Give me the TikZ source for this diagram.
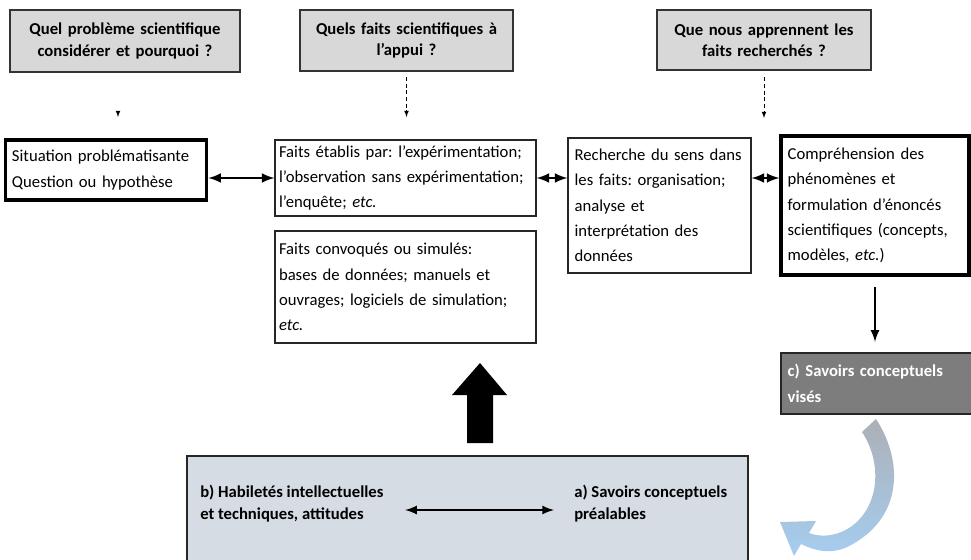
\documentclass[tikz,border=0pt]{standalone}
\usepackage{fontspec}
\setmainfont{Carlito}
\frenchspacing
\usetikzlibrary{
    arrows,
    calc,
    positioning
}
\definecolor{qfill}{RGB}{216,216,216}
\definecolor{cfill}{RGB}{125,125,125}
\definecolor{basefill}{RGB}{214,220,228}
\definecolor{curvetop}{RGB}{172,176,182}
\definecolor{curvebot}{RGB}{165,205,240}

\begin{document}
\begin{tikzpicture}[x=0.75pt, y=-0.75pt,
    question/.style={draw=black!80, line width=0.8pt, fill=qfill, align=center, inner sep=0pt, font=\fontsize{12.5}{16}\selectfont\bfseries},
    box/.style={draw=black!85, line width=0.8pt, align=left, inner xsep=5pt, inner ysep=0pt, font=\fontsize{12.5}{19}\selectfont},
    thickbox/.style={box, draw=black, line width=2.4pt},
    dblarrow/.style={latex-latex, line width=2.2pt},
    hintarrow/.style={-latex, line width=0.6pt, dash pattern=on 3pt off 2pt}]
    \useasboundingbox (0,0) rectangle (971,560);
    % questions
    \node[question, minimum width=172.5pt, minimum height=46.5pt, text width=165pt] (q1) at (125,41) {Quel problème scientifique\\considérer et pourquoi ?};
    \node[question, minimum width=159.75pt, minimum height=45.75pt, text width=150pt] (q2) at (406.5,40.5) {Quels faits scientifiques à\\l’appui ?};
    \node[question, minimum width=160.5pt, minimum height=45pt, text width=150pt] (q3) at (764,40) {Que nous apprennent les\\faits recherchés ?};
    \coordinate (q1end) at (118,117);
    \coordinate (q2end) at (406.5,117);
    \coordinate (q3end) at (764,118);
    % steps
    \node[thickbox, minimum height=45pt, text width=141pt] (sit) at (106,170) {Situation problématisante\\Question ou hypothèse};
    \node[box, inner xsep=3pt, minimum height=57pt, text width=189.75pt] (faits1) at (405.5,178) {Faits établis par: l’expérimentation;\\l’observation sans expérimentation;\\l’enquête; \textit{etc.}};
    \node[box, inner xsep=3pt, minimum height=84pt, text width=189.75pt] (faits2) at (405.5,287) {Faits convoqués ou simulés:\\bases de données; manuels et\\ouvrages; logiciels de simulation;\\\textit{etc.}};
    \node[box, minimum height=101.25pt, text width=127.25pt] (rech) at (659.5,205.5) {Recherche du sens dans\\les faits: organisation;\\analyse et\\interprétation des\\données};
    \node[thickbox, minimum height=104.25pt, text width=131pt] (comp) at (875,205.5) {Compréhension des\\phénomènes et\\formulation d’énoncés\\scientifiques (concepts,\\modèles, \textit{etc.})};
    \node[box, fill=cfill, text=white, font=\fontsize{12.5}{19}\selectfont\bfseries, minimum height=45.75pt, text width=134pt] (cbox) at (877,383.5) {c) Savoirs conceptuels\\visés};
    % base
    \node[draw=black!85, line width=0.8pt, fill=basefill, minimum width=420.75pt, minimum height=89.25pt] (base) at (467.5,515.5) {};
    \node[anchor=west, align=left, inner sep=0pt, font=\fontsize{12.5}{16.5}\selectfont\bfseries] (habil) at (200,504) {b) Habiletés intellectuelles\\et techniques, attitudes};
    \node[anchor=west, align=left, inner sep=0pt, font=\fontsize{12.5}{16.5}\selectfont\bfseries] (savoirs) at (574,504) {a) Savoirs conceptuels\\préalables};
    % connectors
    \draw[hintarrow] ([yshift=3pt]q1end) -- (q1end);
    \draw[hintarrow] ([yshift=-4pt]q2.south) -- (q2end);
    \draw[hintarrow] ([yshift=-5pt]q3.south) -- (q3end);
    \draw[dblarrow] (sit.east |- faits1.west) -- (faits1.west);
    \draw[dblarrow] (faits1.east) -- (faits1.east -| rech.west);
    \draw[dblarrow] (rech.east |- faits1.east) -- (comp.west |- faits1.east);
    \draw[-latex, line width=2pt, shorten <=8pt, shorten >=8pt] (comp.south) -- (comp.south |- cbox.north);
    \draw[dblarrow, line width=2pt] ([xshift=16pt,yshift=-4.5pt]habil.east) -- ([xshift=-15pt,yshift=-4.5pt]savoirs.west);
    % big arrow up
    \fill (467,443) -- (467,395) -- (452,395) -- (480,363) -- (507,395) -- (493,395) -- (493,443) -- cycle;
    % curved arrow
    \shade[top color=curvetop, bottom color=curvebot] (876,419) .. controls (903,460) and (905,520) .. (845,548) .. controls (830,554) and (815,551) .. (801,544) -- (794,556) -- (780,522) -- (816,521) -- (809,533) .. controls (822,538) and (838,536) .. (852,526) .. controls (880,505) and (882,462) .. (862,432) -- cycle;
\end{tikzpicture}
\end{document}
